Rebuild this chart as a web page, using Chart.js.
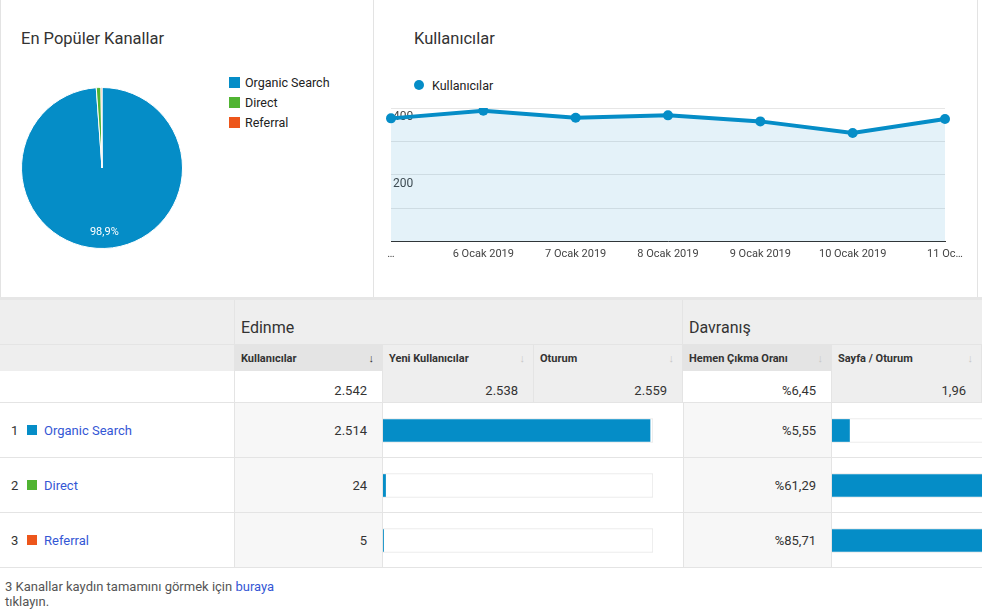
<!DOCTYPE html>
<html lang="tr">
<head>
<meta charset="utf-8">
<title>En Popüler Kanallar</title>
<script src="https://cdn.jsdelivr.net/npm/chart.js@4.4.1/dist/chart.umd.min.js"></script>
<style>
  html, body { margin: 0; padding: 0; background: #fff; }
  body { width: 982px; height: 612px; position: relative; overflow: hidden;
         font-family: Roboto, Arial, sans-serif; color: #333; }
  .abs { position: absolute; box-sizing: border-box; }
  .title { font-size: 16.5px; color: #333; white-space: nowrap; }
  .legend-row { font-size: 12.5px; color: #222; display: flex; align-items: center; height: 20px; white-space: nowrap; }
  .sq { display: inline-block; width: 11px; height: 11px; margin-right: 5px; }
  .num { display: flex; align-items: center; justify-content: flex-end; padding-right: 15px; font-size: 13px; color: #333; }
  .hd { display: flex; align-items: center; justify-content: space-between; padding: 0 8px 0 6px;
        font-size: 11px; font-weight: bold; color: #333; white-space: nowrap; }
  .hd .ar { font-weight: normal; color: #c8c8c8; font-size: 11px; }
  .hd .ar.on { color: #333; }
  a { color: #3457d5; text-decoration: none; }
</style>
</head>
<body>

<!-- top panels -->
<div class="abs" style="left:0;top:0;width:374px;height:297px;border-left:1px solid #e3e3e3;border-right:1px solid #e3e3e3;"></div>
<div class="abs" style="left:373px;top:0;width:605px;height:297px;border-right:1px solid #e3e3e3;"></div>
<div class="abs" style="left:0;top:297px;width:982px;height:3px;background:#e6e6e6;"></div>

<div class="abs title" style="left:21px;top:29px;">En Popüler Kanallar</div>
<div class="abs" id="pieLegend" style="left:229px;top:72px;"></div>
<div class="abs" style="left:20px;top:86px;width:164px;height:164px;"><canvas id="pieChart"></canvas></div>

<div class="abs title" style="left:414px;top:29px;">Kullanıcılar</div>
<div class="abs legend-row" style="left:414px;top:75px;">
  <span style="display:inline-block;width:10px;height:10px;border-radius:50%;background:#058dc7;margin:0 8px 0 0;"></span>Kullanıcılar
</div>
<div class="abs" style="left:374px;top:95px;width:608px;height:175px;"><canvas id="lineChart"></canvas></div>

<div class="abs" style="left:5px;top:579px;width:300px;font-size:13px;line-height:15px;color:#555;">
  3 Kanallar kaydın tamamını görmek için <a href="#">buraya</a><br>tıklayın.
</div>

<script>
const FONT = "Roboto, Arial, sans-serif";
const BLUE = "#058dc7";

// channels (pie + table)
const channels = ["Organic Search", "Direct", "Referral"];
const channelColors = ["#058dc7", "#50b432", "#ed561b"];
const channelUsers = [2514, 24, 5];
const channelBounce = [5.55, 61.29, 85.71];

// daily users (line)
const days = ["5 Ocak 2019", "6 Ocak 2019", "7 Ocak 2019", "8 Ocak 2019", "9 Ocak 2019", "10 Ocak 2019", "11 Ocak 2019"];
const dayTicks = ["…", "6 Ocak 2019", "7 Ocak 2019", "8 Ocak 2019", "9 Ocak 2019", "10 Ocak 2019", "11 Oc…"];
const dailyUsers = [369, 392, 371, 378, 360, 325, 367];
const usersTicks = [200, 400];

// table header + totals
const groups = ["Edinme", "Davranış"];
const metrics = ["Kullanıcılar", "Yeni Kullanıcılar", "Oturum", "Hemen Çıkma Oranı", "Sayfa / Oturum"];
const totals = [2542, 2538, 2559, 6.45, 1.96];

function fmtInt(n){ return String(n).replace(/\B(?=(\d{3})+(?!\d))/g, "."); }
function fmtDec(n, d){ return n.toFixed(d).replace(".", ","); }

function box(x, y, w, h, css, html){
  const d = document.createElement("div");
  d.className = "abs";
  d.style.cssText = `left:${x}px;top:${y}px;width:${w}px;height:${h}px;` + (css || "");
  if(html != null) d.innerHTML = html;
  document.body.appendChild(d);
  return d;
}

/* pie legend */
document.getElementById("pieLegend").innerHTML = channels.map((c, i) =>
  `<div class="legend-row"><span class="sq" style="background:${channelColors[i]}"></span>${c}</div>`
).join("");

/* pie */
const pieLabels = {
  id: "pieLabels",
  afterDatasetsDraw(chart){
    const ctx = chart.ctx;
    const data = chart.data.datasets[0].data;
    const sum = data.reduce((a, b) => a + b, 0);
    chart.getDatasetMeta(0).data.forEach((arc, i) => {
      const share = data[i] / sum * 100;
      if(share < 5) return;
      const mid = (arc.startAngle + arc.endAngle) / 2;
      const r = arc.outerRadius * 0.8;
      ctx.save();
      ctx.fillStyle = "#fff";
      ctx.font = "11px " + FONT;
      ctx.textAlign = "center";
      ctx.textBaseline = "middle";
      ctx.fillText(fmtDec(share, 1) + "%", arc.x + Math.cos(mid) * r, arc.y + Math.sin(mid) * r);
      ctx.restore();
    });
  }
};

new Chart(document.getElementById("pieChart"), {
  type: "pie",
  data: { labels: channels, datasets: [{ data: channelUsers, backgroundColor: channelColors, borderColor: "#fff", borderWidth: 1 }] },
  options: {
    animation: false, responsive: true, maintainAspectRatio: false,
    layout: { padding: 1 },
    plugins: { legend: { display: false }, tooltip: { enabled: false } }
  },
  plugins: [pieLabels]
});

/* line */
new Chart(document.getElementById("lineChart"), {
  type: "line",
  data: { labels: days, datasets: [{
    data: dailyUsers, borderColor: BLUE, backgroundColor: "rgba(5,141,199,0.11)", fill: "origin",
    borderWidth: 4, pointRadius: 5, pointBackgroundColor: BLUE, pointBorderWidth: 0, tension: 0
  }] },
  options: {
    animation: false, responsive: true, maintainAspectRatio: false,
    layout: { padding: { left: 17, right: 37, top: 13, bottom: 3 } },
    plugins: { legend: { display: false }, tooltip: { enabled: false } },
    scales: {
      x: {
        offset: false,
        grid: { display: false, drawTicks: false },
        border: { display: true, color: "#333", width: 1 },
        ticks: { autoSkip: false, maxRotation: 0, padding: 6, color: "#444", font: { size: 11, family: FONT },
                 callback: (v, i) => dayTicks[i] }
      },
      y: {
        min: 0, max: 400, z: 1,
        grid: { color: "rgba(200,200,200,0.45)", drawTicks: false },
        border: { display: false },
        ticks: { stepSize: 100, mirror: true, padding: 2, labelOffset: 9, color: "#444", font: { size: 12, family: FONT },
                 callback: v => usersTicks.includes(v) ? String(v) : "" },
        afterFit: s => { s.width = 0; }
      }
    }
  }
});

/* table */
const colX = [0, 235, 383, 534, 683, 832, 982];
const LINE = "#e4e4e4";

// header row 1
box(0, 300, 235, 45, `background:#eee;border-right:1px solid ${LINE};border-bottom:1px solid ${LINE};`);
box(235, 300, 448, 45, `background:#eee;border-right:1px solid ${LINE};border-bottom:1px solid ${LINE};padding:18px 0 0 6px;font-size:16px;color:#333;`, groups[0]);
box(683, 300, 299, 45, `background:#eee;border-bottom:1px solid ${LINE};padding:18px 0 0 6px;font-size:16px;color:#333;`, groups[1]);

// header row 2
box(0, 345, 235, 26, `background:#eee;border-right:1px solid ${LINE};`);
metrics.forEach((m, i) => {
  const x = colX[i + 1], w = colX[i + 2] - x;
  const bg = (i === 0 || i === 3) ? "#e4e4e4" : "#eee";
  const el = box(x, 345, w, 26, `background:${bg};border-right:1px solid ${LINE};`,
    `<span>${m}</span><span class="ar${i === 0 ? " on" : ""}">↓</span>`);
  el.classList.add("hd");
});

// totals row
box(0, 371, 235, 32, `background:#fff;border-right:1px solid ${LINE};border-bottom:1px solid ${LINE};`);
const totalText = [fmtInt(totals[0]), fmtInt(totals[1]), fmtInt(totals[2]), "%" + fmtDec(totals[3], 2), fmtDec(totals[4], 2)];
totalText.forEach((t, i) => {
  const x = colX[i + 1], w = colX[i + 2] - x;
  const bg = (i === 0 || i === 3) ? "#fff" : "#eee";
  const el = box(x, 371, w, 32, `background:${bg};border-right:1px solid ${LINE};border-bottom:1px solid ${LINE};padding-top:7px;`, t);
  el.classList.add("num");
});

// data rows
channels.forEach((c, r) => {
  const y = 403 + r * 55;
  box(0, y, 235, 55, `background:#fff;border-right:1px solid ${LINE};border-bottom:1px solid ${LINE};display:flex;align-items:center;padding-left:11px;font-size:13px;`,
    `<span style="color:#333;width:16px;">${r + 1}</span><span class="sq" style="width:10px;height:10px;margin-right:7px;background:${channelColors[r]}"></span><a href="#">${c}</a>`);
  box(235, y, 148, 55, `background:#f7f7f7;border-right:1px solid ${LINE};border-bottom:1px solid ${LINE};`, fmtInt(channelUsers[r])).classList.add("num");
  box(383, y, 300, 55, `background:#fff;border-bottom:1px solid ${LINE};`);
  box(683, y, 149, 55, `background:#f7f7f7;border-left:1px solid ${LINE};border-right:1px solid ${LINE};border-bottom:1px solid ${LINE};`, "%" + fmtDec(channelBounce[r], 2)).classList.add("num");
  box(832, y, 150, 55, `background:#fff;border-bottom:1px solid ${LINE};`);
});

// bar charts inside table cells
function tableBars(x, values, max){
  const clip = box(x, 403, 982 - x, 165, "overflow:hidden;");
  const wrap = document.createElement("div");
  wrap.style.cssText = "position:absolute;left:0;top:0;width:300px;height:165px;";
  const cv = document.createElement("canvas");
  wrap.appendChild(cv);
  clip.appendChild(wrap);
  new Chart(cv, {
    type: "bar",
    data: { labels: channels, datasets: [
      { data: values, backgroundColor: BLUE, barThickness: 22, grouped: false, borderSkipped: false },
      { data: channels.map(() => max), backgroundColor: "#fff", borderColor: "#e6e6e6", borderWidth: 1,
        barThickness: 24, grouped: false, borderSkipped: false }
    ] },
    options: {
      indexAxis: "y", animation: false, responsive: true, maintainAspectRatio: false,
      layout: { padding: { left: 0, right: 30, top: 0, bottom: 0 } },
      plugins: { legend: { display: false }, tooltip: { enabled: false } },
      scales: { x: { display: false, min: 0, max: max }, y: { display: false } }
    }
  });
}
tableBars(383, channelUsers, totals[0]);
tableBars(832, channelBounce, Math.max(...channelBounce));
</script>
</body>
</html>
